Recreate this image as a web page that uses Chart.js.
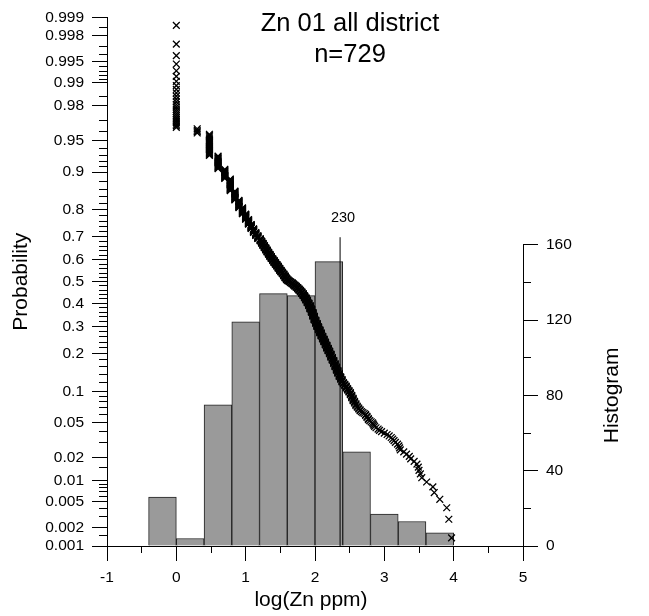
<!DOCTYPE html>
<html>
<head>
<meta charset="utf-8">
<title>Zn 01 all district</title>
<script src="https://cdn.jsdelivr.net/npm/chart.js@4.4.1/dist/chart.umd.min.js"></script>
<style>
  html, body { margin: 0; padding: 0; background: #fff; }
  canvas { display: block; }
</style>
</head>
<body>
<canvas id="probChart" width="649" height="616"></canvas>
<script>
// =========================================================
// Data
// =========================================================

// distinct log10(Zn ppm) values (ascending) and number of samples at each
const logZn = [
    0, 0.301, 0.477, 0.602, 0.699, 0.778,
    0.845, 0.903, 0.954, 1.0, 1.041, 1.079, 1.114, 1.146, 1.176,
    1.21, 1.23, 1.25, 1.27, 1.29, 1.31, 1.33, 1.35, 1.37, 1.39,
    1.41, 1.43, 1.45, 1.47, 1.49, 1.51, 1.53, 1.55, 1.57, 1.59,
    1.61, 1.63, 1.65, 1.67, 1.69, 1.71, 1.73, 1.75, 1.77, 1.79,
    1.81, 1.83, 1.85, 1.87, 1.89, 1.91, 1.93, 1.95, 1.97, 1.99,
    2.01, 2.03, 2.05, 2.07, 2.09, 2.11, 2.13, 2.15, 2.17, 2.19,
    2.21, 2.23, 2.25, 2.27, 2.29, 2.31, 2.33, 2.35, 2.37, 2.39,
    2.41, 2.43, 2.45, 2.47, 2.49, 2.51, 2.53, 2.55, 2.57, 2.59,
    2.61, 2.63, 2.65, 2.67, 2.69, 2.71, 2.73, 2.75, 2.77, 2.79,
    2.81, 2.83, 2.84, 2.85, 2.86, 2.88, 2.91, 2.93, 2.96, 3.00, 3.04, 3.07, 3.10, 3.12, 3.14, 3.16, 3.19,
    3.21, 3.22, 3.23, 3.28, 3.32, 3.36, 3.38, 3.43, 3.47, 3.49, 3.50, 3.52, 3.54,
    3.61, 3.70, 3.72, 3.80, 3.90, 3.93, 3.97
];
const sampleCount = [
    26, 4, 21, 17, 15, 22,
    19, 17, 15, 14, 13, 12, 11, 9, 9,
    7, 7, 7, 7, 7, 7, 7, 7, 7, 6,
    7, 6, 6, 7, 7, 6, 6, 7, 7, 6,
    4, 3, 3, 4, 4, 4, 4, 5, 5, 5,
    6, 7, 7, 8, 9, 9, 11, 11, 12, 12,
    10, 10, 9, 9, 9, 8, 8, 8, 8, 7,
    7, 8, 7, 7, 7, 7, 6, 6, 5, 5,
    3, 3, 4, 3, 3, 4, 4, 4, 3, 3,
    2, 2, 2, 1, 1, 1, 2, 2, 2, 1,
    1, 1, 1, 1, 1, 1, 1, 1, 1, 1, 1, 1, 1, 1, 1, 1, 1,
    1, 1, 1, 1, 1, 1, 1, 1, 1, 1, 1, 1, 1,
    1, 1, 1, 1, 1, 1, 1
];

// histogram (bins 0.4 log units wide)
const binStart = [-0.4, 0, 0.4, 0.8, 1.2, 1.6, 2.0, 2.4, 2.8, 3.2, 3.6];
const binCount = [26, 4, 75, 119, 134, 133, 151, 50, 17, 13, 7];
const BIN_WIDTH = 0.4;

// threshold marker (ppm) and how high its line goes, in histogram units
const markerPpm = 230;
const markerTop = 164;

// axis ticks
const probTicks = [0.001, 0.002, 0.005, 0.01, 0.02, 0.05, 0.1, 0.2, 0.3, 0.4, 0.5,
    0.6, 0.7, 0.8, 0.9, 0.95, 0.98, 0.99, 0.995, 0.998, 0.999];
const probMinor = [0.0015, 0.003, 0.004, 0.006, 0.007, 0.008, 0.009, 0.015, 0.03, 0.04,
    0.06, 0.07, 0.08, 0.09, 0.12, 0.14, 0.16, 0.18, 0.22, 0.24, 0.26, 0.28,
    0.32, 0.34, 0.36, 0.38, 0.42, 0.44, 0.46, 0.48, 0.52, 0.54, 0.56, 0.58,
    0.62, 0.64, 0.66, 0.68, 0.72, 0.74, 0.76, 0.78, 0.82, 0.84, 0.86, 0.88,
    0.91, 0.92, 0.93, 0.94, 0.96, 0.97, 0.985, 0.991, 0.992, 0.993, 0.994,
    0.996, 0.997, 0.9985];
const histTicks = [0, 40, 80, 120, 160];
const histMinor = [20, 60, 100, 140];
const xMinor = [-0.5, 0.5, 1.5, 2.5, 3.5, 4.5];

const FONT = "'Liberation Sans', Arial, sans-serif";

// =========================================================
// Helpers
// =========================================================

// inverse standard normal CDF (Acklam)
function probit(p) {
    const a = [-39.69683028665376, 220.9460984245205, -275.9285104469687, 138.3577518672690, -30.66479806614716, 2.506628277459239];
    const b = [-54.47609879822406, 161.5858368580409, -155.6989798598866, 66.80131188771972, -13.28068155288572];
    const c = [-0.007784894002430293, -0.3223964580411365, -2.400758277161838, -2.549732968964213, 4.374664141464968, 2.938163982698783];
    const d = [0.007784695709041462, 0.3224671290700398, 2.445134137142996, 3.754408661907416];
    const pl = 0.02425;
    if (p < pl) {
        const q = Math.sqrt(-2 * Math.log(p));
        return (((((c[0] * q + c[1]) * q + c[2]) * q + c[3]) * q + c[4]) * q + c[5]) /
            ((((d[0] * q + d[1]) * q + d[2]) * q + d[3]) * q + 1);
    }
    if (p > 1 - pl) {
        const q = Math.sqrt(-2 * Math.log(1 - p));
        return -(((((c[0] * q + c[1]) * q + c[2]) * q + c[3]) * q + c[4]) * q + c[5]) /
            ((((d[0] * q + d[1]) * q + d[2]) * q + d[3]) * q + 1);
    }
    const q = p - 0.5, r = q * q;
    return (((((a[0] * r + a[1]) * r + a[2]) * r + a[3]) * r + a[4]) * r + a[5]) * q /
        (((((b[0] * r + b[1]) * r + b[2]) * r + b[3]) * r + b[4]) * r + 1);
}

function crisp(v) {
    return Math.round(v - 0.5) + 0.5;
}

// probability plot: each sample at its rank-based plotting position
const nSamples = sampleCount.reduce((s, c) => s + c, 0);
const probPoints = [];
let rank = 0;
logZn.forEach((v, i) => {
    for (let j = 0; j < sampleCount[i]; j++) {
        rank++;
        probPoints.push({ x: v, y: probit(1 - rank / (nSamples + 1)) });
    }
});

const histBars = binStart.map((s, i) => ({ x: s + BIN_WIDTH / 2, y: binCount[i] }));
const markerX = Math.log10(markerPpm);

// =========================================================
// Extra drawing: minor ticks, partial right axis, texts
// =========================================================

const extrasPlugin = {
    id: 'extras',
    afterDraw(chart) {
        const { ctx, chartArea: ca, scales: { x, y, y2 } } = chart;
        ctx.save();
        ctx.strokeStyle = '#000';
        ctx.lineWidth = 1;
        ctx.beginPath();
        probMinor.forEach(p => {
            const py = crisp(y.getPixelForValue(probit(p)));
            ctx.moveTo(ca.left - 8, py);
            ctx.lineTo(ca.left, py);
        });
        xMinor.forEach(v => {
            const px = crisp(x.getPixelForValue(v));
            ctx.moveTo(px, ca.bottom);
            ctx.lineTo(px, ca.bottom + 7);
        });
        histMinor.forEach(v => {
            const py = crisp(y2.getPixelForValue(v));
            ctx.moveTo(ca.right, py);
            ctx.lineTo(ca.right + 8, py);
        });
        // right axis line only spans the histogram range
        const rx = crisp(ca.right);
        ctx.moveTo(rx, y2.getPixelForValue(histTicks[histTicks.length - 1]));
        ctx.lineTo(rx, ca.bottom);
        ctx.stroke();

        ctx.fillStyle = '#000';
        ctx.textAlign = 'center';
        ctx.textBaseline = 'alphabetic';
        ctx.font = '25.5px ' + FONT;
        ctx.fillText('Zn 01 all district', 350, 31);
        ctx.fillText('n=' + nSamples, 350, 62);

        ctx.font = '14.5px ' + FONT;
        ctx.textBaseline = 'middle';
        ctx.fillText(String(markerPpm), x.getPixelForValue(markerX) + 3, y2.getPixelForValue(markerTop) - 19);

        // x axis title
        ctx.font = '21px ' + FONT;
        ctx.fillText('log(Zn ppm)', (ca.left + ca.right) / 2 - 4, 600);

        ctx.font = '21px ' + FONT;
        const hy = (y2.getPixelForValue(0) + y2.getPixelForValue(histTicks[histTicks.length - 1])) / 2;
        ctx.translate(612, hy);
        ctx.rotate(-Math.PI / 2);
        ctx.fillText('Histogram', 0, 0);
        ctx.restore();
    }
};

// =========================================================
// Chart
// =========================================================

Chart.defaults.font.family = FONT;
Chart.defaults.color = '#000';

const axisGrid = {
    display: true,
    drawOnChartArea: false,
    drawTicks: true,
    tickLength: 15,
    color: '#000',
    tickColor: '#000',
    lineWidth: 1
};

new Chart(document.getElementById('probChart'), {
    type: 'bar',
    data: {
        datasets: [
            {
                type: 'scatter',
                data: probPoints,
                xAxisID: 'x',
                yAxisID: 'y',
                pointStyle: 'crossRot',
                pointRadius: 4.8,
                pointBorderWidth: 1.3,
                pointBorderColor: '#000',
                pointBackgroundColor: '#000',
                showLine: false,
                order: 0
            },
            {
                type: 'line',
                data: [{ x: markerX, y: 0 }, { x: markerX, y: markerTop }],
                xAxisID: 'x',
                yAxisID: 'y2',
                borderColor: '#000',
                borderWidth: 1,
                pointRadius: 0,
                order: 1
            },
            {
                type: 'bar',
                data: histBars,
                xAxisID: 'x',
                yAxisID: 'y2',
                backgroundColor: '#9a9a9a',
                borderColor: '#222',
                borderWidth: 1,
                barPercentage: 1,
                categoryPercentage: 1,
                order: 2
            }
        ]
    },
    options: {
        responsive: false,
        animation: false,
        devicePixelRatio: 1,
        layout: { padding: { top: 16, left: 0, right: 0, bottom: 0 } },
        plugins: {
            legend: { display: false },
            tooltip: { enabled: false },
            title: { display: false }
        },
        scales: {
            x: {
                type: 'linear',
                position: 'bottom',
                min: -1,
                max: 5,
                offset: false,
                grid: { ...axisGrid, offset: false },
                border: { display: true, color: '#000', width: 1 },
                ticks: { stepSize: 1, padding: 7, font: { size: 15.5 } },
                afterFit: s => { s.height = 70; }
            },
            y: {
                type: 'linear',
                position: 'left',
                min: probit(probTicks[0]),
                max: probit(probTicks[probTicks.length - 1]),
                grid: axisGrid,
                border: { display: true, color: '#000', width: 1 },
                afterBuildTicks: s => { s.ticks = probTicks.map(p => ({ value: probit(p) })); },
                ticks: {
                    autoSkip: false,
                    padding: 8,
                    font: { size: 15.5 },
                    callback: (v, i) => String(probTicks[i])
                },
                title: {
                    display: true,
                    text: 'Probability',
                    font: { size: 21 },
                    padding: { top: 9, bottom: 0 }
                },
                afterFit: s => { s.width = 107; }
            },
            y2: {
                type: 'linear',
                position: 'right',
                min: 0,
                max: 280.8,
                grid: axisGrid,
                border: { display: false },
                afterBuildTicks: s => { s.ticks = histTicks.map(v => ({ value: v })); },
                ticks: { autoSkip: false, padding: 8, font: { size: 15.5 } },
                afterFit: s => { s.width = 126; }
            }
        }
    },
    plugins: [extrasPlugin]
});
</script>
</body>
</html>
